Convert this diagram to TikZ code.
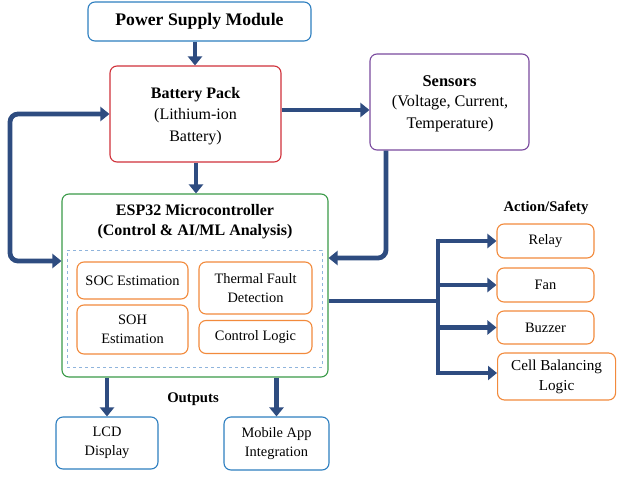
\documentclass[tikz,border=0pt]{standalone}
\usepackage{fontspec}
\setmainfont{Liberation Serif}
\usetikzlibrary{arrows.meta,calc}
\definecolor{cblue}{HTML}{2E7FC0}
\definecolor{cred}{HTML}{D0313A}
\definecolor{cpurple}{HTML}{7A4A9E}
\definecolor{cgreen}{HTML}{3A9A48}
\definecolor{corange}{HTML}{F28A3C}
\definecolor{cdash}{HTML}{8FB4DC}
\definecolor{carrow}{HTML}{2E4C80}
\tikzset{
  box/.style={draw, line width=1.1pt, rounded corners=7pt, inner sep=2pt, align=center, fill=white},
  txt/.style={font=\fontsize{14.4}{19.5}\selectfont},
  bigtxt/.style={font=\fontsize{16}{21.5}\selectfont},
  ttl/.style={font=\fontsize{16}{20}\selectfont\bfseries},
  arr/.style={draw=carrow, line width=4.8pt, -{Triangle[length=9pt,width=14pt]}},
  arrb/.style={draw=carrow, line width=4.8pt, {Triangle[length=9pt,width=14pt]}-{Triangle[length=9pt,width=14pt]}, rounded corners=8pt},
  ln/.style={draw=carrow, line width=4.8pt},
}
\begin{document}
\begin{tikzpicture}[x=1pt,y=-1pt]
\useasboundingbox (0,0) rectangle (618,479);
% boxes
\node[box, draw=cblue, minimum width=223pt, minimum height=39pt, font=\fontsize{17.7}{20}\selectfont\bfseries] (psu) at (199.5,21.5) {Power Supply Module};
\node[box, draw=cred, minimum width=171pt, minimum height=96pt] (bat) at (195.5,114) {};
\node[ttl] (batt) at (195.5,95) {Battery Pack};
\node[bigtxt, align=center] (batb) at (195.5,126.5) {(Lithium-ion\\Battery)};
\node[box, draw=cpurple, minimum width=159pt, minimum height=96pt] (sen) at (449.5,102) {};
\node[ttl, font=\fontsize{16.4}{20}\selectfont\bfseries] (sent) at (449.5,81) {Sensors};
\node[bigtxt, font=\fontsize{16.2}{22}\selectfont, align=center] (senb) at (450,114) {(Voltage, Current,\\Temperature)};
\node[box, draw=cgreen, minimum width=266pt, minimum height=183pt] (esp) at (195,285.5) {};
\node[ttl, align=center] (espt) at (195,222) {ESP32 Microcontroller\\(Control \& AI/ML Analysis)};
\node[draw=cdash, dashed, line width=0.8pt, minimum width=255pt, minimum height=117pt] (inner) at (194.5,308.5) {};
\node[box, draw=corange, minimum width=111pt, minimum height=37pt, txt] (soc) at (132.5,280.5) {SOC Estimation};
\node[box, draw=corange, minimum width=111pt, minimum height=49pt, txt] (soh) at (132.5,329.5) {SOH\\Estimation};
\node[box, draw=corange, minimum width=113pt, minimum height=52pt, txt] (thf) at (255.5,288) {Thermal Fault\\Detection};
\node[box, draw=corange, minimum width=113pt, minimum height=33pt, txt] (ctl) at (255.5,337) {Control Logic};
\node[font=\fontsize{14.7}{18}\selectfont\bfseries] (acts) at (546,208) {Action/Safety};
\node[box, draw=corange, minimum width=97pt, minimum height=34pt, txt] (relay) at (545.5,241) {Relay};
\node[box, draw=corange, minimum width=97pt, minimum height=34pt, txt] (fan) at (545.5,285) {Fan};
\node[box, draw=corange, minimum width=97pt, minimum height=33pt, txt] (buz) at (545.5,327.5) {Buzzer};
\node[box, draw=corange, minimum width=118pt, minimum height=47pt, font=\fontsize{15.2}{20}\selectfont, anchor=west] (cell) at (497,376.5) {Cell Balancing\\Logic};
\node[font=\fontsize{14.7}{18}\selectfont\bfseries] (outs) at (193,399) {Outputs};
\node[box, draw=cblue, minimum width=102pt, minimum height=52pt, txt] (lcd) at (107,443) {LCD\\Display};
\node[box, draw=cblue, minimum width=105pt, minimum height=53pt, txt] (app) at (276.5,443.5) {Mobile App\\Integration};
% connectors
\draw[arr] (psu.south -| 195,0) -- (bat.north -| 195,0);
\draw[arr] (bat.south -| 196,0) -- (esp.north -| 196,0);
\draw[arr] (bat.east |- 0,110) -- (sen.west |- 0,110);
\coordinate (lbat) at (bat.west);
\coordinate (lesp) at (esp.west |- 0,261);
\draw[arrb] (lbat) -- (10,114) -- (10,261) -- (lesp);
\draw[arr, rounded corners=8pt] (sen.south -| 386,0) -- (386,258) -- (esp.east |- 0,258);
\coordinate (trunk) at (438,301);
\draw[ln] (esp.east |- trunk) -- (trunk);
\draw[ln] (438,238.6) -- (438,375.4);
\draw[arr] (438,241) -- (relay.west);
\draw[arr] (438,285) -- (fan.west);
\draw[arr] (438,327.5) -- (buz.west);
\draw[arr] (438,373) -- (cell.west |- 0,373);
\draw[arr] (esp.south -| lcd.north) -- (lcd.north);
\draw[arr] (esp.south -| app.north) -- (app.north);
\end{tikzpicture}
\end{document}
